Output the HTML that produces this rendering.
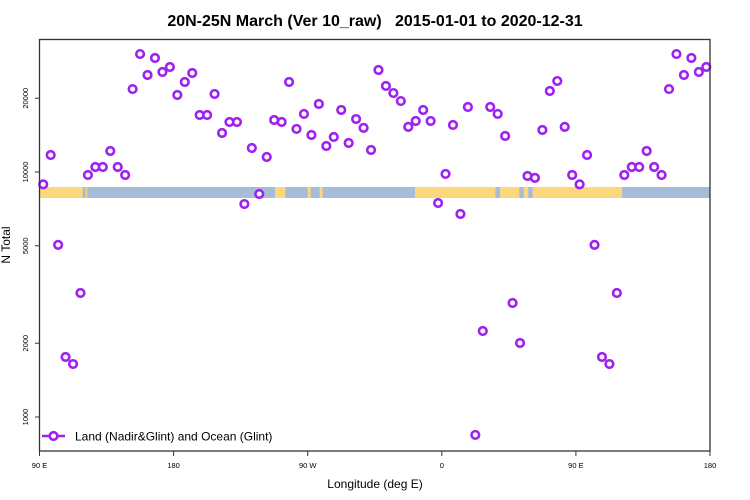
<!DOCTYPE html>
<html><head><meta charset="utf-8"><style>
body{margin:0;background:#fff}
svg{display:block;font-family:"Liberation Sans",sans-serif}
</style></head><body>
<svg id="chart" width="750" height="500" viewBox="0 0 750 500">
<rect width="750" height="500" fill="#fff"/>
<text x="375" y="26" text-anchor="middle" font-size="16" font-weight="bold" style="white-space:pre">20N-25N March (Ver 10_raw)   2015-01-01 to 2020-12-31</text>
<g id="strip"></g>
<g id="axes"></g>
<g id="marks"></g>
<rect x="39.5" y="39.5" width="670.5" height="411.5" fill="none" stroke="#333" stroke-width="1.3"/>
<text x="375" y="488" text-anchor="middle" font-size="12">Longitude (deg E)</text>
<text transform="translate(10,245) rotate(-90)" text-anchor="middle" font-size="12">N Total</text>
<g>
<line x1="42" y1="436" x2="65" y2="436" stroke="#a020f0" stroke-width="2.5"/>
<circle cx="53.5" cy="436" r="3.8" fill="#fff" stroke="#a020f0" stroke-width="2.6"/>
<text x="75" y="440.5" font-size="12">Land (Nadir&amp;Glint) and Ocean (Glint)</text>
</g>
</svg>
<script>
const lons = [];
const values = [8900,11730,5040,1758,1645,3208,9720,10480,10480,12180,10480,9720,21800,30300,24880,29190,25600,26830,
20620,23300,25350,17090,17090,20810,14430,16000,16000,7400,12530,8130,11510,16300,16000,23300,14990,17260,
14160,18950,12770,13900,17910,13130,16450,15140,12300,26080,22450,21000,19480,15280,16150,17910,16150,7470,
9820,15560,6740,18420,845,2244,18420,17260,14030,2920,2005,9630,9460,14840,21410,23510,15280,9720];
const xTicks = [90,180,270,360,450,540];
const xTickLabels = ["90 E","180","90 W","0","90 E","180"];
const yTicks = [1000,2000,5000,10000,20000];
const landSegments = [[90,119],[121,122],[248,255],[270,272],[278,280],[342,396],[399,412],[415,418],[421,481]];
for (let i=0;i<values.length;i++) lons.push(92.5+5*i);
const ns="http://www.w3.org/2000/svg";
const X0=39.5,X1=710,Y1000=417,DEC=245;
const xs=l=>X0+(l-90)*(X1-X0)/450;
const ys=v=>Y1000-Math.log10(v/1000)*DEC;
function mk(t,a,p){const e=document.createElementNS(ns,t);for(const k in a)e.setAttribute(k,a[k]);p.appendChild(e);return e;}
const strip=document.getElementById('strip');
mk('rect',{x:X0,y:187,width:X1-X0,height:11,fill:'#a6bcd9'},strip);
landSegments.forEach(s=>{
  const r=mk('rect',{x:xs(s[0]),y:187,width:xs(s[1])-xs(s[0]),height:11,fill:'#fcd77b'},strip);
  
  
});
const axes=document.getElementById('axes');
xTicks.forEach((t,i)=>{
  const l=mk('line',{x1:xs(t),x2:xs(t),y1:451,y2:456,stroke:'#333'},axes);
  
  
  const tx=mk('text',{x:xs(t),y:468,'text-anchor':'middle','font-size':'7.5'},axes);
  tx.textContent=xTickLabels[i];
  
  
});
yTicks.forEach(t=>{
  const y=ys(t);
  const l=mk('line',{x1:35,x2:X0,y1:y,y2:y,stroke:'#333'},axes);
  
  
  const tx=mk('text',{transform:`translate(28,${y}) rotate(-90)`,'text-anchor':'middle','font-size':'7.5'},axes);
  tx.textContent=String(t);
  
  
});
const marks=document.getElementById('marks');
function pt(l,v){
  const c=mk('circle',{cx:xs(l),cy:ys(v),r:3.8,fill:'#fff',stroke:'#a020f0','stroke-width':2.6},marks);
  
  
}
for(let i=0;i<values.length;i++){
  pt(lons[i],values[i]);
  if(lons[i]+360<540) pt(lons[i]+360,values[i]);
}
</script>
</body></html>
